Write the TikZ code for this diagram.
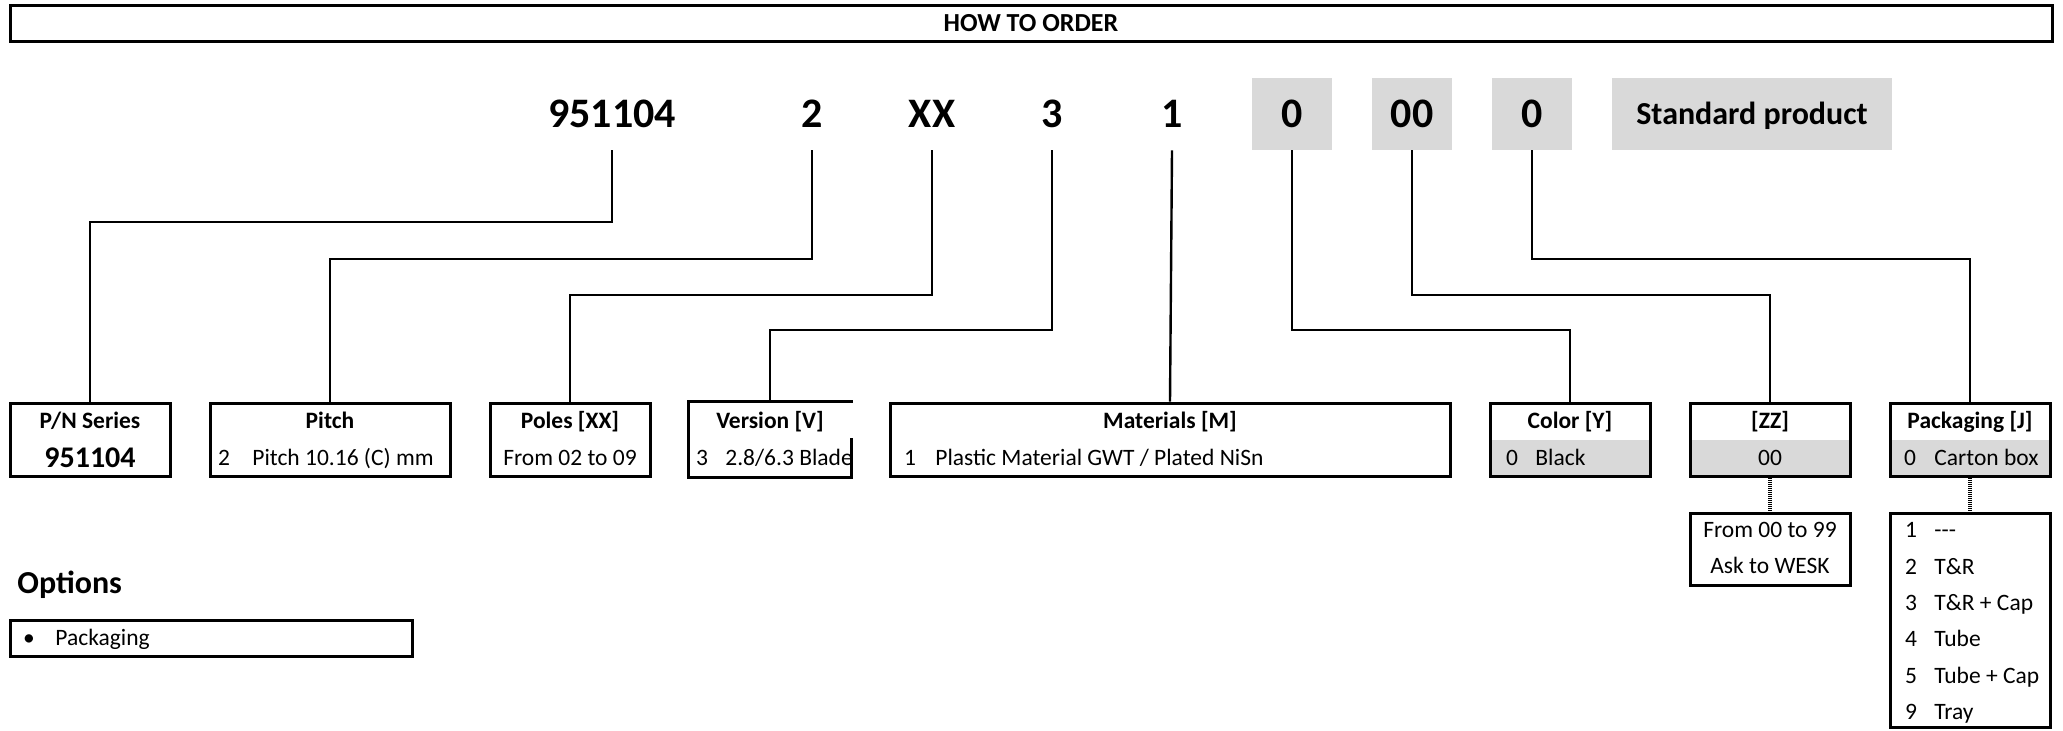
\documentclass[tikz,border=0pt]{standalone}
\usepackage{fontspec}
\setmainfont{Carlito}
\definecolor{cellgray}{HTML}{D9D9D9}
\newcommand\bodysize{\fontsize{11.75}{14}\selectfont}
\tikzset{
  code/.style={minimum width=40pt, minimum height=36pt, inner sep=0pt, text height=13.5pt, text depth=0pt, font=\fontsize{21}{24}\selectfont\bfseries},
  graycode/.style={code, fill=cellgray},
  field/.style={draw, line width=1.5pt, inner sep=0pt, minimum height=36.5pt},
  lowgray/.style={path picture={\fill[cellgray] (path picture bounding box.west) rectangle (path picture bounding box.south east);}},
  head/.style={inner sep=0pt, text height=7.6pt, text depth=0pt, font=\bodysize\bfseries},
  txt/.style={inner sep=0pt, text height=7.6pt, text depth=0pt, font=\bodysize},
  link/.style={line width=1.2pt},
  dots/.style={line width=1.6pt, dash pattern=on 0.5pt off 0.5pt},
}
\begin{document}
\begin{tikzpicture}[x=0.5pt,y=-0.5pt]
\useasboundingbox (0,0) rectangle (2063,730);
% title bar
\node[field, minimum width=1021pt, minimum height=18pt, font=\fontsize{13}{15}\selectfont\bfseries] (title) at (1031,23) {HOW TO ORDER};

% part number
\node[code] (kSer) at (612,114) {951104};
\node[code] (kPitch) at (812,114) {2};
\node[code] (kPoles) at (932,114) {XX};
\node[code] (kVer) at (1052,114) {3};
\node[code] (kMat) at (1172,114) {1};
\node[graycode] (kCol) at (1292,114) {0};
\node[graycode] (kZZ) at (1412,114) {00};
\node[graycode] (kPack) at (1532,114) {0};
\node[graycode, minimum width=140pt, font=\fontsize{16}{19}\selectfont\bfseries, text height=10.3pt] (kStd) at (1752,114) {Standard product};

% fields
\node[field, minimum width=80pt] (bSer) at (90,439.5) {};
\node[field, minimum width=120pt] (bPitch) at (330,439.5) {};
\node[field, minimum width=80pt] (bPoles) at (570,439.5) {};
\node[field, draw=none, minimum width=80pt] (bVer) at (770,439.5) {};
\node[field, minimum width=280pt] (bMat) at (1170,439.5) {};
\node[field, lowgray, minimum width=80pt] (bCol) at (1570,439.5) {};
\node[field, lowgray, minimum width=80pt] (bZZ) at (1770,439.5) {};
\node[field, lowgray, minimum width=80pt] (bPack) at (1970,439.5) {};
\draw[line width=1.5pt, line cap=rect] (bVer.east) -- (bVer.south east) -- (bVer.south west) -- (bVer.north west) -- (bVer.north east);

\node[field, minimum width=80pt, minimum height=36pt] (bZZList) at (1770,549) {};
\node[field, minimum width=80pt, minimum height=107pt] (bPackList) at (1970,620) {};

% connectors
\foreach \k/\b/\y in {kSer/bSer/222, kPitch/bPitch/259, kPoles/bPoles/295, kVer/bVer/330, kCol/bCol/330, kZZ/bZZ/295, kPack/bPack/259}
{
    \draw[link] (\k.south) -- (\k.south |- 0,\y) -| (\b.north);
}
\draw[link] (kMat.south) -- (bMat.north);
\draw[dots] (bZZ.south) -- (bZZList.north);
\draw[dots] (bPack.south) -- (bPackList.north);

% headers
\node[head] (hSer) at (90,421) {P/N Series};
\node[head] (hPitch) at (330,421) {Pitch};
\node[head] (hPoles) at (570,421) {Poles [XX]};
\node[head] (hVer) at (770,421) {Version [V]};
\node[head] (hMat) at (1170,421) {Materials [M]};
\node[head] (hCol) at (1570,421) {Color [Y]};
\node[head] (hZZ) at (1770,421) {[ZZ]};
\node[head] (hPack) at (1970,421) {Packaging [J]};

% values
\node[head, font=\fontsize{15}{18}\selectfont\bfseries, text height=9.7pt] (vSer) at (90,458) {951104};
\node[txt] (nPitch) at (224,458) {2};
\node[txt, anchor=west] (vPitch) at (252,458) {Pitch 10.16 (C) mm};
\node[txt] (nVer) at (702,458) {3};
\node[txt, anchor=west] (vVer) at (725,458) {2.8/6.3 Blade};
\node[txt] (vPoles) at (570,458) {From 02 to 09};
\node[txt] (nMat) at (910,458) {1};
\node[txt, anchor=west] (vMat) at (935,458) {Plastic Material GWT / Plated NiSn};
\node[txt] (nCol) at (1512,458) {0};
\node[txt, anchor=west] (vCol) at (1535,458) {Black};
\node[txt] (vZZ) at (1770,458) {00};
\node[txt] (nPack) at (1910,458) {0};
\node[txt, anchor=west] (vPack) at (1934,458) {Carton box};

\node[txt] (zz1) at (1770,530) {From 00 to 99};
\node[txt] (zz2) at (1770,566) {Ask to WESK};
\foreach \n/\t [count=\i from 0] in {1/{-{}-{}-}, 2/T\&R, 3/T\&R + Cap, 4/Tube, 5/Tube + Cap, 9/Tray}
{
    \node[txt] (pn\i) at (1911,{530+36.4*\i}) {\n};
    \node[txt, anchor=west] (pt\i) at (1934,{530+36.4*\i}) {\t};
}

% options
\node[head, anchor=west, font=\fontsize{16}{19}\selectfont\bfseries, text height=10.3pt] (opt) at (17,583) {Options};
\node[field, minimum width=201pt, minimum height=18pt] (bOpt) at (211,638) {};
\node[txt] (optDot) at (29,638) {•};
\node[txt, anchor=west] (optPack) at (55,638) {Packaging};
\end{tikzpicture}
\end{document}
